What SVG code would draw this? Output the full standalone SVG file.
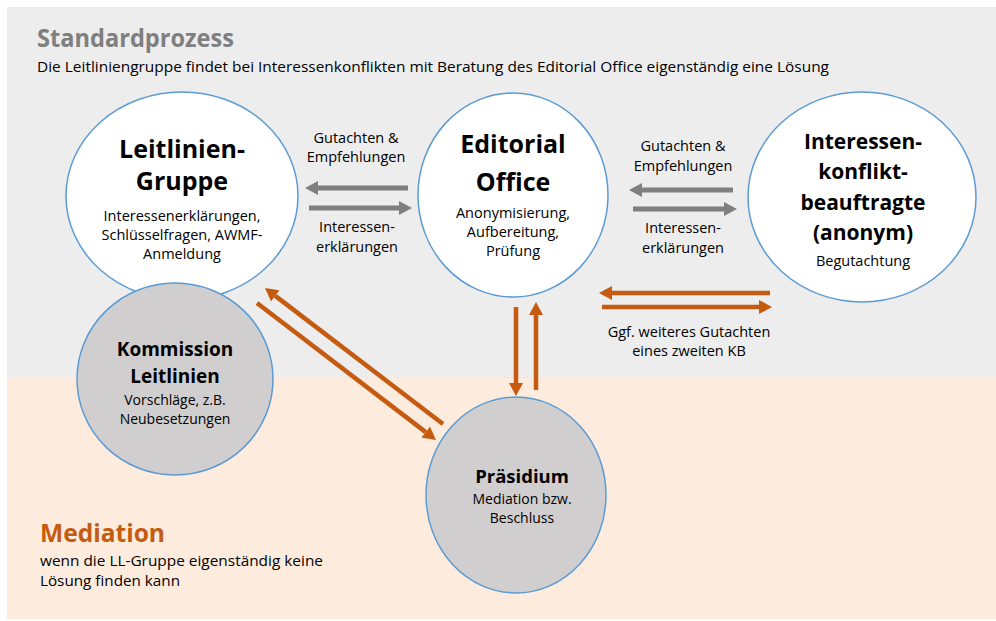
<svg xmlns="http://www.w3.org/2000/svg" width="996" height="621" viewBox="0 0 996 621">
  <style>
    text { font-family: "Open Sans", "Noto Sans", sans-serif; fill: #000; }
    .title { font-weight: bold; text-anchor: middle; }
    .sub { font-size: 14.5px; text-anchor: middle; }
    .sub-s { font-size: 14px; text-anchor: middle; }
    .lbl { font-size: 14.5px; text-anchor: middle; }
    .node-w { fill: #ffffff; stroke: #5b9bd5; stroke-width: 1.5; }
    .node-g { fill: #d0cece; stroke: #5b9bd5; stroke-width: 1.5; }
    .gray { stroke: #7f7f7f; stroke-width: 5; fill: none; marker-end: url(#headGray); }
    .orange { stroke: #c55a11; stroke-width: 4.5; fill: none; marker-end: url(#headOrange); }
  </style>
  <defs>
    <marker id="headGray" markerUnits="userSpaceOnUse" markerWidth="13" markerHeight="14" refX="0" refY="7" orient="auto">
      <path d="M0,0 L13,7 L0,14 Z" fill="#7f7f7f"/>
    </marker>
    <marker id="headOrange" markerUnits="userSpaceOnUse" markerWidth="13" markerHeight="14" refX="0" refY="7" orient="auto">
      <path d="M0,0 L13,7 L0,14 Z" fill="#c55a11"/>
    </marker>
  </defs>

  <!-- background bands -->
  <rect x="0" y="0" width="996" height="621" fill="#ffffff"/>
  <rect x="7" y="7" width="989" height="371" fill="#ededed"/>
  <rect x="7" y="378" width="989" height="241" fill="#fdecde"/>

  <!-- section headings -->
  <text x="37" y="47" font-size="25" font-weight="bold" style="fill:#7f7f7f" textLength="197" lengthAdjust="spacingAndGlyphs">Standardprozess</text>
  <text x="37" y="72" font-size="14" textLength="792" lengthAdjust="spacingAndGlyphs">Die Leitliniengruppe findet bei Interessenkonflikten mit Beratung des Editorial Office eigenständig eine Lösung</text>
  <text x="40" y="542" font-size="25" font-weight="bold" style="fill:#c55a11" textLength="125" lengthAdjust="spacingAndGlyphs">Mediation</text>
  <text x="40" y="566" font-size="14.5" textLength="283" lengthAdjust="spacingAndGlyphs">wenn die LL-Gruppe eigenständig keine</text>
  <text x="40" y="586" font-size="14.5" textLength="140" lengthAdjust="spacingAndGlyphs">Lösung finden kann</text>

  <!-- nodes -->
  <g id="leitlinien-gruppe">
    <ellipse class="node-w" cx="182" cy="196" rx="116" ry="104"/>
    <text class="title" x="182" y="158" font-size="25">Leitlinien-</text>
    <text class="title" x="182" y="190" font-size="25">Gruppe</text>
    <text class="sub" x="182" y="221">Interessenerklärungen,</text>
    <text class="sub" x="182" y="240">Schlüsselfragen, AWMF-</text>
    <text class="sub" x="182" y="259">Anmeldung</text>
  </g>

  <g id="kommission-leitlinien">
    <ellipse class="node-g" cx="175" cy="379" rx="98" ry="96"/>
    <text class="title" x="175" y="356" font-size="19">Kommission</text>
    <text class="title" x="175" y="383" font-size="19">Leitlinien</text>
    <text class="sub-s" x="175" y="405">Vorschläge, z.B.</text>
    <text class="sub-s" x="175" y="424">Neubesetzungen</text>
  </g>

  <g id="editorial-office">
    <ellipse class="node-w" cx="513" cy="195" rx="95" ry="102"/>
    <text class="title" x="513" y="153" font-size="25">Editorial</text>
    <text class="title" x="513" y="191" font-size="25">Office</text>
    <text class="sub" x="513" y="218">Anonymisierung,</text>
    <text class="sub" x="513" y="237">Aufbereitung,</text>
    <text class="sub" x="513" y="256">Prüfung</text>
  </g>

  <g id="interessenkonfliktbeauftragte">
    <ellipse class="node-w" cx="862" cy="197" rx="114" ry="105"/>
    <text class="title" x="863" y="149" font-size="21">Interessen-</text>
    <text class="title" x="863" y="179" font-size="21">konflikt-</text>
    <text class="title" x="863" y="210" font-size="21">beauftragte</text>
    <text class="title" x="863" y="240" font-size="21">(anonym)</text>
    <text class="sub" x="863" y="266">Begutachtung</text>
  </g>

  <g id="praesidium">
    <ellipse class="node-g" cx="516" cy="495" rx="90" ry="98"/>
    <text class="title" x="522" y="483" font-size="18.5">Präsidium</text>
    <text class="sub-s" x="522" y="504">Mediation bzw.</text>
    <text class="sub-s" x="522" y="523">Beschluss</text>
  </g>

  <!-- connectors -->
  <g id="connectors">
    <line class="gray" x1="408" y1="188" x2="318" y2="188"/>
    <line class="gray" x1="309" y1="208" x2="399" y2="208"/>
    <line class="gray" x1="733" y1="190" x2="642" y2="190"/>
    <line class="gray" x1="633" y1="209" x2="724" y2="209"/>

    <line class="orange" x1="770" y1="293" x2="612" y2="293"/>
    <line class="orange" x1="602" y1="307" x2="759" y2="307"/>
    <line class="orange" x1="516" y1="307" x2="516" y2="383"/>
    <line class="orange" x1="536" y1="390" x2="536" y2="315"/>
    <line class="orange" x1="443" y1="424" x2="275.3" y2="295.9"/>
    <line class="orange" x1="257" y1="303" x2="425.7" y2="432.1"/>
  </g>

  <!-- connector labels -->
  <g id="labels">
    <text class="lbl" x="356" y="143">Gutachten &amp;</text>
    <text class="lbl" x="356" y="162">Empfehlungen</text>
    <text class="lbl" x="357" y="232">Interessen-</text>
    <text class="lbl" x="357" y="252">erklärungen</text>
    <text class="lbl" x="683" y="151">Gutachten &amp;</text>
    <text class="lbl" x="683" y="171">Empfehlungen</text>
    <text class="lbl" x="683" y="233">Interessen-</text>
    <text class="lbl" x="683" y="253">erklärungen</text>
    <text class="lbl" x="689" y="337">Ggf. weiteres Gutachten</text>
    <text class="lbl" x="689" y="356">eines zweiten KB</text>
  </g>
</svg>
